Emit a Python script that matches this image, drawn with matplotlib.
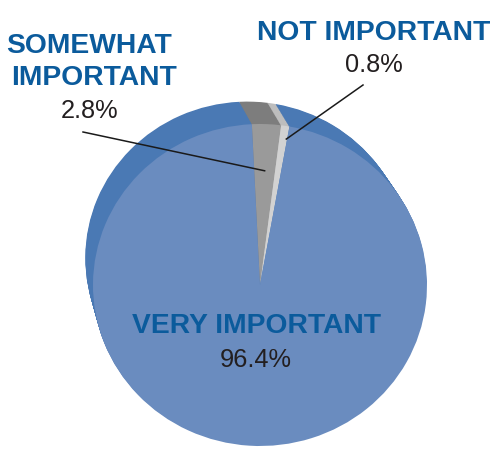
import numpy as np
import matplotlib
matplotlib.use('Agg')
import matplotlib.pyplot as plt
from matplotlib.transforms import Affine2D

labels = ['SOMEWHAT IMPORTANT', 'NOT IMPORTANT', 'VERY IMPORTANT']
values = [2.8, 0.8, 96.4]
face_colors = ['#9a9a9a', '#d2d2d2', '#6a8cbf']
side_colors = ['#7d7d7d', '#bdbdbd', '#4a79b4']

plt.rcParams['font.family'] = ['Liberation Sans', 'DejaVu Sans']

fig = plt.figure(figsize=(5, 4.53), dpi=100)
ax = fig.add_axes([0, 0, 1, 1])
ax.set_xlim(0, 500)
ax.set_ylim(0, 453)
ax.axis('off')

# pie face is a slightly flattened ellipse
sy = 161 / 167
squash = Affine2D().scale(1, sy)
cx, cy, r = 260, 168, 167
start = 92.8


def draw_pie(center, radius, colors):
    wedges, _ = ax.pie(values, colors=colors, startangle=start, counterclock=False,
                       center=(center[0], center[1] / sy), radius=radius,
                       wedgeprops=dict(linewidth=0), frame=True)
    for w in wedges:
        w.set_transform(squash + ax.transData)


# side of the tilted pie, swept from the back disc to the face
for t in np.linspace(1, 0, 30)[:-1]:
    draw_pie((cx - 12.7 * t, cy + 27.2 * t), r - 5 * t, side_colors)
draw_pie((cx, cy), r, face_colors)

ax.set_xlim(0, 500)
ax.set_ylim(0, 453)
ax.set_aspect('auto')
ax.axis('off')

bounds = start - np.cumsum([0] + values) * 3.6
mids = (bounds[:-1] + bounds[1:]) / 2

label_blue = '#0b5b9c'
num_color = '#231f20'
bold = dict(fontsize=20.3, fontweight='bold', color=label_blue, ha='center', va='baseline')
num = dict(fontsize=18.3, color=num_color, ha='center', va='baseline')

ax.text(89, 400, 'SOMEWHAT', **bold)
ax.text(94, 368, 'IMPORTANT', **bold)
ax.text(90, 335, f'{values[0]}%', **num)
ax.text(374, 413, labels[1], **bold)
ax.text(373.5, 381, f'{values[1]}%', **num)
ax.text(256.5, 120, labels[2], **bold)
ax.text(256, 86, f'{values[2]}%', **num)


def rim_point(angle, frac):
    a = np.deg2rad(angle)
    return cx + frac * r * np.cos(a), cy + frac * r * sy * np.sin(a)


x0, y0 = rim_point(mids[0], 0.71)
ax.plot([83, x0], [321, y0], color='#1a1a1a', lw=1.1)
x1, y1 = rim_point(bounds[2] + 0.3, 0.92)
ax.plot([363, x1], [368, y1], color='#1a1a1a', lw=1.1)

fig.savefig('out.png', dpi=100)
